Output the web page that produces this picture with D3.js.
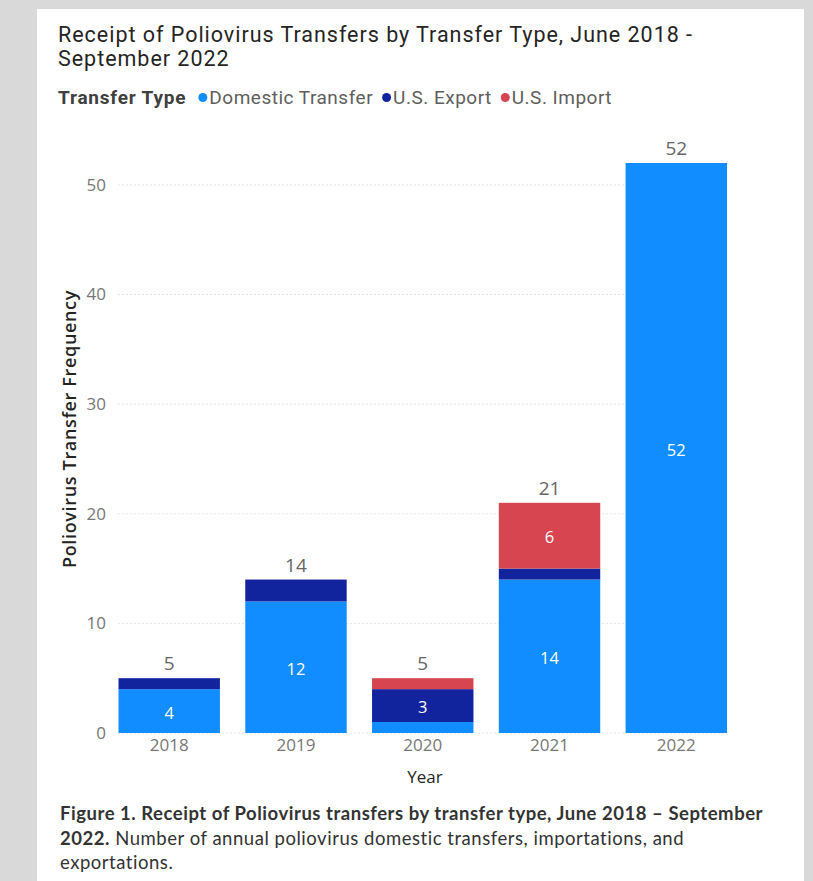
<!DOCTYPE html>
<html>
<head>
<meta charset="utf-8">
<script src="https://cdn.jsdelivr.net/npm/d3@7"></script>
<style>
  html, body { margin: 0; padding: 0; background: #d9d9d9; }
  svg { display: block; }
</style>
</head>
<body>
<div id="chart"></div>
<script>
// ---- Data ----
const years = ["2018", "2019", "2020", "2021", "2022"];
const seriesNames = ["Domestic Transfer", "U.S. Export", "U.S. Import"];
const domestic = [4, 12, 1, 14, 52];
const usExport = [1, 2, 3, 1, 0];
const usImport = [0, 0, 1, 6, 0];
const yTicks = [0, 10, 20, 30, 40, 50];
const colors = ["#118DFF", "#12239E", "#D64550"];

const titleLines = ["Receipt of Poliovirus Transfers by Transfer Type, June 2018 -", "September 2022"];
const legendTitle = "Transfer Type";
const yAxisTitle = "Poliovirus Transfer Frequency";
const xAxisTitle = "Year";
const captionBold1 = "Figure 1. Receipt of Poliovirus transfers by transfer type, June 2018 \u2013 September";
const captionBold2 = "2022.";
const captionText2 = " Number of annual poliovirus domestic transfers, importations, and";
const captionText3 = "exportations.";

// ---- Setup ----
const W = 813, H = 881;
const svg = d3.select("#chart").append("svg").attr("width", W).attr("height", H);
svg.append("rect").attr("width", W).attr("height", H).attr("fill", "#d9d9d9");
svg.append("rect").attr("x", 37).attr("y", 9).attr("width", 767).attr("height", H - 9).attr("fill", "#ffffff");

const rows = years.map((y, i) => ({ year: y, "Domestic Transfer": domestic[i], "U.S. Export": usExport[i], "U.S. Import": usImport[i] }));
const stack = d3.stack().keys(seriesNames)(rows);

const x = d3.scaleBand().domain(years).range([118.5, 727]).paddingInner(0.2).paddingOuter(0);
const y = d3.scaleLinear().domain([0, 52]).range([733, 163]);

function fitSpacing(sel, target) {
  const w = sel.node().getComputedTextLength();
  const n = sel.text().length;
  const ls = (target - w) / n;
  sel.attr("letter-spacing", ls);
  return ls;
}

// Title
const titleFont = "Roboto, 'DejaVu Sans', sans-serif";
const titleSel = svg.append("g").selectAll("text").data(titleLines).join("text")
  .attr("x", 58).attr("y", (d, i) => 42 + i * 24)
  .attr("font-family", titleFont).attr("font-size", 21.5).attr("fill", "#252423")
  .text(d => d);
const tls = fitSpacing(d3.select(titleSel.nodes()[0]), 635);
d3.select(titleSel.nodes()[1]).attr("letter-spacing", tls);

// Legend
const lg = svg.append("g").attr("font-family", titleFont).attr("font-size", 19);
let lx = 58;
const lyBase = 104;
const lt = lg.append("text").attr("x", lx).attr("y", lyBase).attr("font-weight", "bold")
  .attr("letter-spacing", 0.8).attr("fill", "#404040").text(legendTitle);
lx += lt.node().getComputedTextLength() + 12;
seriesNames.forEach((name, i) => {
  lg.append("circle").attr("cx", lx + 4.5).attr("cy", lyBase - 6.5).attr("r", 4.5).attr("fill", colors[i]);
  const t = lg.append("text").attr("x", lx + 11).attr("y", lyBase).attr("letter-spacing", 0.5)
    .attr("fill", "#605E5C").text(name);
  lx += 11 + t.node().getComputedTextLength() + 9;
});

// Gridlines
const axisFont = "'Open Sans', 'Noto Sans', sans-serif";
svg.append("g").selectAll("line").data(yTicks).join("line")
  .attr("x1", x.range()[0]).attr("x2", x.range()[1])
  .attr("y1", d => y(d)).attr("y2", d => y(d))
  .attr("stroke", "#c8c8c8").attr("stroke-width", 1).attr("stroke-dasharray", "1,3");

// Y axis
const yAxis = d3.axisLeft(y).tickValues(yTicks).tickSize(0).tickPadding(0);
const yg = svg.append("g").attr("transform", "translate(106,0)").call(yAxis);
yg.select(".domain").remove();
yg.selectAll("text").attr("font-family", axisFont).attr("font-size", 17).attr("fill", "#777777");

// X axis
const xAxis = d3.axisBottom(x).tickSize(0).tickPadding(0);
const xg = svg.append("g").attr("transform", "translate(0,739)").call(xAxis);
xg.select(".domain").remove();
xg.selectAll("text").attr("font-family", axisFont).attr("font-size", 17).attr("fill", "#777777").attr("dy", "0.71em");

// Axis titles
svg.append("text").attr("x", 425).attr("y", 783).attr("text-anchor", "middle")
  .attr("font-family", axisFont).attr("font-size", 17).attr("fill", "#252423").text(xAxisTitle);
const yt = svg.append("text").attr("transform", "translate(76,429) rotate(-90)").attr("text-anchor", "middle")
  .attr("font-family", axisFont).attr("font-size", 18).attr("font-weight", 600).attr("fill", "#252423").text(yAxisTitle);
fitSpacing(yt, 278);

// Bars
const layers = svg.append("g").selectAll("g").data(stack).join("g").attr("fill", (d, i) => colors[i]);
layers.selectAll("rect").data(d => d).join("rect")
  .attr("x", d => x(d.data.year)).attr("width", x.bandwidth())
  .attr("y", d => y(d[1])).attr("height", d => y(d[0]) - y(d[1]));

// Inside labels
const inside = [];
stack.forEach(layer => layer.forEach(d => { if (d[1] - d[0] >= 3) inside.push({ year: d.data.year, lo: d[0], hi: d[1] }); }));
svg.append("g").selectAll("text").data(inside).join("text")
  .attr("x", d => x(d.year) + x.bandwidth() / 2).attr("y", d => y((d.lo + d.hi) / 2) + 2)
  .attr("dy", "0.35em").attr("text-anchor", "middle")
  .attr("font-family", axisFont).attr("font-size", 16.5).attr("fill", "#ffffff")
  .text(d => d.hi - d.lo);

// Totals
const totals = years.map((yr, i) => ({ year: yr, total: domestic[i] + usExport[i] + usImport[i] }));
svg.append("g").selectAll("text").data(totals).join("text")
  .attr("x", d => x(d.year) + x.bandwidth() / 2).attr("y", d => y(d.total) - 8)
  .attr("text-anchor", "middle")
  .attr("font-family", axisFont).attr("font-size", 19).attr("fill", "#666666")
  .text(d => d.total);

// Caption
const capFont = "Lato, 'Liberation Sans', sans-serif";
const cap = svg.append("g").attr("font-family", capFont).attr("font-size", 18.5).attr("fill", "#333333");
const c1 = cap.append("text").attr("x", 60).attr("y", 820).attr("font-weight", "bold").text(captionBold1);
const cls = fitSpacing(c1, 703);
const l2 = cap.append("text").attr("x", 60).attr("y", 845).attr("letter-spacing", cls);
l2.append("tspan").attr("font-weight", "bold").text(captionBold2);
l2.append("tspan").text(captionText2);
cap.append("text").attr("x", 60).attr("y", 869).attr("letter-spacing", cls).text(captionText3);
</script>
</body>
</html>
